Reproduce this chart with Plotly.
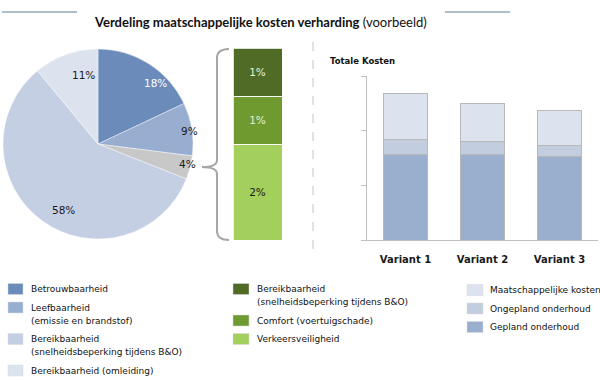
import math
import plotly.graph_objects as go

W, H = 600, 382

# ---------------- data ----------------
pie_labels = ["Betrouwbaarheid", "Leefbaarheid", "Overig", "Bereikbaarheid (snelheidsbeperking)", "Bereikbaarheid (omleiding)"]
pie_values = [18, 9, 4, 58, 11]
pie_colors = ["#6b8bba", "#98aed1", "#c8c8c8", "#c4cfe3", "#dde3ee"]
pie_text_colors = ["#ffffff", "#1a1a1a", "#1a1a1a", "#1a1a1a", "#1a1a1a"]

detail_labels = ["Verkeersveiligheid", "Comfort (voertuigschade)", "Bereikbaarheid (snelheidsbeperking tijdens B&O)"]
detail_values = [2, 1, 1]
detail_colors = ["#a3cf5c", "#6f9a30", "#4f6b25"]
detail_text_colors = ["#1a1a1a", "#e6f0d2", "#e6f0d2"]

variants = ["Variant 1", "Variant 2", "Variant 3"]
gepland = [1.57, 1.56, 1.52]
ongepland = [0.26, 0.25, 0.21]
maatschappelijk = [0.85, 0.69, 0.64]
cost_names = ["Gepland onderhoud", "Ongepland onderhoud", "Maatschappelijke kosten"]
cost_colors = ["#9aaecd", "#c3cde0", "#dce3ee"]

legend_left = [["Betrouwbaarheid"], ["Leefbaarheid", "(emissie en brandstof)"],
               ["Bereikbaarheid", "(snelheidsbeperking tijdens B&O)"], ["Bereikbaarheid (omleiding)"]]
legend_left_colors = ["#6b8bba", "#98aed1", "#c4cfe3", "#dde3ee"]
legend_mid = [["Bereikbaarheid", "(snelheidsbeperking tijdens B&O)"], ["Comfort (voertuigschade)"], ["Verkeersveiligheid"]]
legend_mid_colors = ["#4f6b25", "#6f9a30", "#a3cf5c"]
legend_right = [["Maatschappelijke kosten"], ["Ongepland onderhoud"], ["Gepland onderhoud"]]
legend_right_colors = ["#dce3ee", "#c3cde0", "#9aaecd"]

FONT = "DejaVu Sans"


def px(x):
    return x / W


def py(y):
    return 1 - y / H


fig = go.Figure()

# ---------------- pie ----------------
PCX, PCY, PR = 98, 144, 95
fig.add_trace(go.Pie(
    labels=pie_labels, values=pie_values, sort=False, direction="clockwise", rotation=0,
    marker=dict(colors=pie_colors, line=dict(color="#ffffff", width=0.4)),
    textinfo="none", hoverinfo="skip", showlegend=False,
    domain=dict(x=[px(PCX - PR), px(PCX + PR)], y=[py(PCY + PR), py(PCY - PR)]),
))
annotations = []
total = sum(pie_values)
cum = 0
for v, c in zip(pie_values, pie_text_colors):
    ang = (cum + v / 2) / total * 2 * math.pi
    cum += v
    tx = PCX + 0.86 * PR * math.sin(ang)
    ty = PCY - 0.86 * PR * math.cos(ang)
    annotations.append(dict(x=px(tx), y=py(ty), xref="paper", yref="paper", text=f"{v}%",
                            showarrow=False, font=dict(family=FONT, size=10.5, color=c)))

# ---------------- detail stacked bar ----------------
for lab, v, c, tc in zip(detail_labels, detail_values, detail_colors, detail_text_colors):
    fig.add_trace(go.Bar(
        x=[0], y=[v], width=1, name=lab, xaxis="x2", yaxis="y2",
        marker=dict(color=c, line=dict(color="#ffffff", width=0.8)),
        text=[f"{round(v / sum(detail_values) * 4)}%"], textposition="inside", insidetextanchor="middle",
        textangle=0, textfont=dict(family=FONT, size=10.5, color=tc), showlegend=False, hoverinfo="skip",
    ))

# ---------------- total costs ----------------
for name, vals, c in zip(cost_names, [gepland, ongepland, maatschappelijk], cost_colors):
    fig.add_trace(go.Bar(
        x=variants, y=vals, name=name, xaxis="x3", yaxis="y3", width=0.57,
        marker=dict(color=c, line=dict(color="#b9b9b9", width=1)),
        showlegend=False, hoverinfo="skip",
    ))

# ---------------- shapes ----------------
shapes = []
# title lines
for x0, x1 in [(2, 77), (445, 510)]:
    shapes.append(dict(type="line", xref="paper", yref="paper", x0=px(x0), x1=px(x1), y0=py(12), y1=py(12),
                       line=dict(color="#5f7f94", width=1)))
# separator dashed line
shapes.append(dict(type="line", xref="paper", yref="paper", x0=px(313), x1=px(313), y0=py(42), y1=py(253),
                   line=dict(color="#c4c4c4", width=1, dash="dash")))
# curly bracket
pts = "M {a} {b} Q {c} {b} {c} {d} L {c} {e} Q {c} {f} {g} {f} Q {c} {f} {c} {h} L {c} {i} Q {c} {j} {a} {j}".format(
    a=px(229), b=py(49), c=px(217), d=py(58), e=py(160), f=py(167), g=px(202), h=py(174), i=py(231), j=py(240))
shapes.append(dict(type="path", xref="paper", yref="paper", path=pts, line=dict(color="#a6a6a6", width=2)))


# legends
def add_legend(items, colors, mx0, mx1, tx, y0):
    y = y0
    for lines, col in zip(items, colors):
        shapes.append(dict(type="rect", xref="paper", yref="paper", x0=px(mx0), x1=px(mx1),
                           y0=py(y + 5.5), y1=py(y - 5.5), fillcolor=col,
                           line=dict(color="#d4d8de", width=0.5)))
        for k, ln in enumerate(lines):
            annotations.append(dict(x=px(tx), y=py(y + 13 * k), xref="paper", yref="paper", text=ln,
                                    showarrow=False, xanchor="left", yanchor="middle",
                                    font=dict(family=FONT, size=9, color="#111111")))
        y += 18.5 + 13 * (len(lines) - 1)


add_legend(legend_left, legend_left_colors, 8, 23, 29, 289)
add_legend(legend_mid, legend_mid_colors, 233, 249, 255, 289)
add_legend(legend_right, legend_right_colors, 467, 483, 488, 290)

# title
annotations.append(dict(x=px(260.5), y=py(12), xref="paper", yref="paper",
                        text="<b>Verdeling maatschappelijke kosten verharding</b> (voorbeeld)",
                        showarrow=False, font=dict(family="Lato", size=13, color="#111111")))
annotations.append(dict(x=px(328), y=py(54), xref="paper", yref="paper", text="<b>Totale Kosten</b>",
                        showarrow=False, xanchor="left", font=dict(family=FONT, size=8.5, color="#111111")))

fig.update_layout(
    width=W, height=H, autosize=False, margin=dict(l=0, r=0, t=0, b=0),
    paper_bgcolor="#ffffff", plot_bgcolor="rgba(0,0,0,0)", barmode="stack", showlegend=False,
    shapes=shapes, annotations=annotations,
    xaxis2=dict(domain=[px(233), px(282)], range=[-0.5, 0.5], visible=False, anchor="y2", fixedrange=True),
    yaxis2=dict(domain=[py(240), py(48)], range=[0, 4], visible=False, anchor="x2", fixedrange=True),
    xaxis3=dict(domain=[px(367), px(598)], anchor="y3", showline=True, linecolor="#bfbfbf", linewidth=1,
                ticks="", showgrid=False, ticklabelstandoff=10,
                tickfont=dict(family=FONT, size=10, color="#1a1a1a", weight="bold")),
    yaxis3=dict(domain=[py(240), py(76)], range=[0, 3], anchor="x3", showline=True, linecolor="#bfbfbf",
                linewidth=1, ticks="outside", ticklen=5, tickcolor="#bfbfbf", tickvals=[0, 1, 2, 3],
                showticklabels=False, showgrid=False, zeroline=False),
)

fig.write_html("out.html", config={"displayModeBar": False},
               post_script="document.body.style.margin='0px';document.body.style.overflow='hidden';")
